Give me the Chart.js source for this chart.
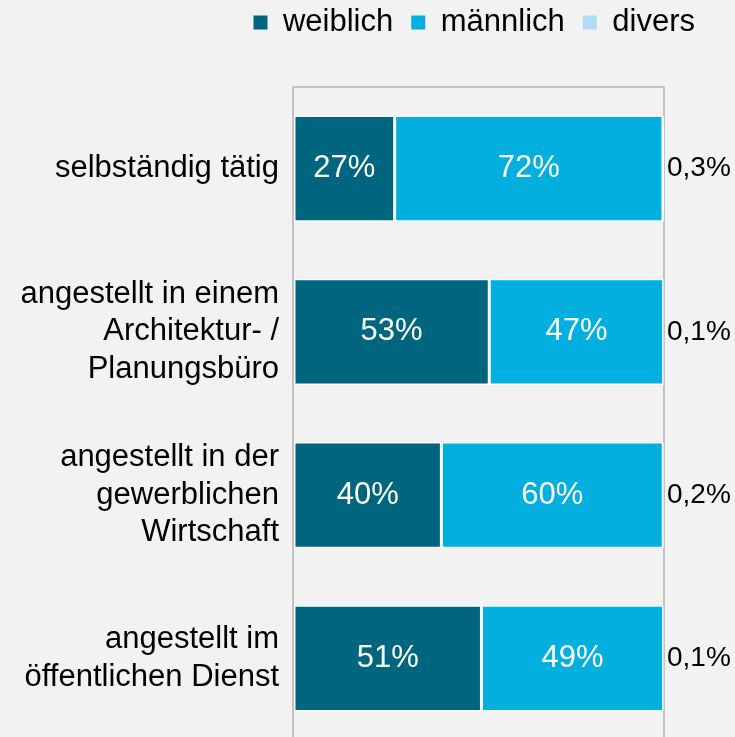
<!DOCTYPE html>
<html>
<head>
<meta charset="utf-8">
<script src="https://cdn.jsdelivr.net/npm/chart.js@4"></script>
<style>
  html, body { margin: 0; padding: 0; background: #f2f2f2; overflow: hidden; }
  #wrap { width: 735px; height: 740px; }
</style>
</head>
<body>
<div id="wrap"><canvas id="genderChart" width="735" height="740"></canvas></div>
<script>
const ctx = document.getElementById('genderChart').getContext('2d');

// Kategorien (mehrzeilige Achsenbeschriftungen)
const categories = [
    ['selbständig tätig'],
    ['angestellt in einem', 'Architektur- /', 'Planungsbüro'],
    ['angestellt in der', 'gewerblichen', 'Wirtschaft'],
    ['angestellt im', 'öffentlichen Dienst']
];
const seriesNames = ['weiblich', 'männlich', 'divers'];
const weiblich = [27.4, 52.9, 40.0, 50.8];
const maennlich = [72.3, 47.0, 59.8, 49.1];
const divers = [0.3, 0.1, 0.2, 0.1];
const xTicks = [0, 100];

const colors = ['#006680', '#03afdf', '#b0dcf4'];
const fontFamily = "'Liberation Sans', Arial, sans-serif";

// Legende höher machen, damit der Plot bei y=87 beginnt
const legendSpace = {
    id: 'legendSpace',
    beforeInit(chart) {
        const fit = chart.legend.fit;
        chart.legend.fit = function () {
            fit.bind(chart.legend)();
            this.height = 98;
        };
    }
};

// Prozentwerte in / neben den Balken
const barLabels = {
    id: 'barLabels',
    afterDatasetsDraw(chart) {
        const c = chart.ctx;
        c.save();
        c.textBaseline = 'middle';
        chart.data.datasets.forEach((ds, i) => {
            const meta = chart.getDatasetMeta(i);
            meta.data.forEach((bar, j) => {
                const v = ds.data[j];
                if (i < 2) {
                    c.font = '31px ' + fontFamily;
                    c.fillStyle = '#ffffff';
                    c.textAlign = 'center';
                    c.fillText(Math.round(v) + '%', (bar.x + bar.base) / 2, bar.y);
                } else {
                    c.font = '28px ' + fontFamily;
                    c.fillStyle = '#000000';
                    c.textAlign = 'left';
                    const x = chart.scales.x.getPixelForValue(100) + 3;
                    c.fillText(v.toFixed(1).replace('.', ',') + '%', x, bar.y);
                }
            });
        });
        c.restore();
    }
};

const config = {
    type: 'bar',
    data: {
        labels: categories,
        datasets: [
            { label: seriesNames[0], data: weiblich, backgroundColor: colors[0] },
            { label: seriesNames[1], data: maennlich, backgroundColor: colors[1] },
            { label: seriesNames[2], data: divers, backgroundColor: colors[2] }
        ].map(d => Object.assign(d, {
            borderColor: '#ffffff',
            borderWidth: 1.5,
            borderSkipped: false,
            categoryPercentage: 1,
            barPercentage: 0.65
        }))
    },
    options: {
        indexAxis: 'y',
        responsive: false,
        animation: false,
        layout: { padding: { right: 22, top: -11 } },
        plugins: {
            tooltip: { enabled: false },
            legend: {
                position: 'top',
                align: 'end',
                labels: {
                    color: '#000000',
                    font: { family: fontFamily, size: 31, lineHeight: 1 },
                    boxWidth: 14,
                    boxHeight: 14,
                    padding: 18,
                    generateLabels(chart) {
                        return Chart.defaults.plugins.legend.labels.generateLabels(chart).map(l => {
                            l.strokeStyle = l.fillStyle;
                            l.lineWidth = 0;
                            return l;
                        });
                    }
                }
            }
        },
        scales: {
            x: {
                position: 'top',
                stacked: true,
                min: 0,
                max: 100,
                afterBuildTicks(scale) {
                    scale.ticks = xTicks.map(v => ({ value: v }));
                },
                afterFit(scale) {
                    scale.height = 0;
                    scale.paddingLeft = 0;
                    scale.paddingRight = 0;
                },
                ticks: { display: false },
                grid: { color: '#c3c3c3', lineWidth: 2, drawTicks: false },
                border: { display: true, color: '#c3c3c3', width: 2 }
            },
            y: {
                stacked: true,
                afterFit(scale) {
                    scale.width = 293;
                    scale.paddingTop = 0;
                    scale.paddingBottom = 0;
                },
                ticks: {
                    color: '#000000',
                    padding: 14,
                    font: { family: fontFamily, size: 31, lineHeight: 1.2 }
                },
                grid: { display: false, drawTicks: false },
                border: { display: false }
            },
            y2: {
                type: 'linear',
                position: 'right',
                display: true,
                afterFit(scale) {
                    scale.width = 49;
                    scale.paddingTop = 0;
                    scale.paddingBottom = 0;
                },
                ticks: { display: false },
                grid: { display: false, drawTicks: false },
                border: { display: false }
            }
        }
    },
    plugins: [legendSpace, barLabels]
};

const genderChart = new Chart(ctx, config);
</script>
</body>
</html>
